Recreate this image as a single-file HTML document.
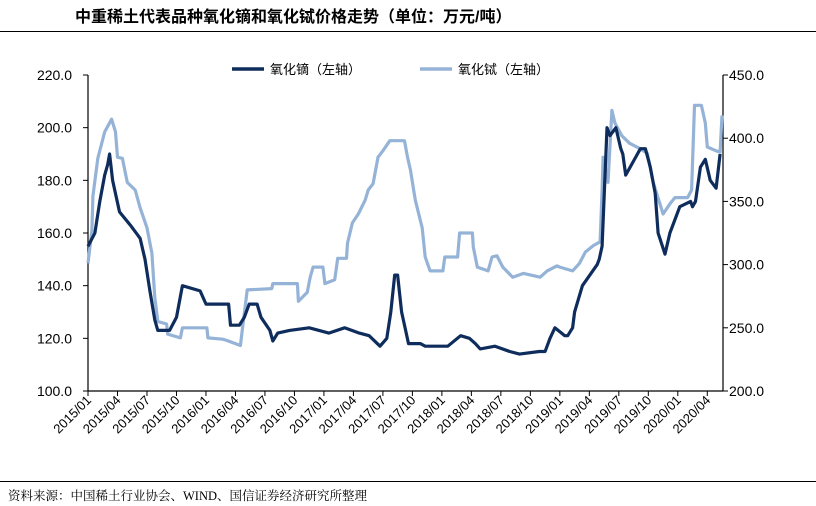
<!DOCTYPE html>
<html><head><meta charset="utf-8">
<style>
body{margin:0;background:#fff;width:816px;height:506px;overflow:hidden;font-family:"Liberation Sans","Noto Sans CJK SC",sans-serif;}
#title{position:absolute;left:75px;top:3px;font-size:16px;font-weight:bold;color:#000;font-family:"Liberation Sans","Noto Sans CJK SC",sans-serif;}
#src{position:absolute;left:8px;top:486px;font-size:12.5px;color:#000;font-family:"Liberation Serif","Noto Serif CJK SC",serif;}
.hl{position:absolute;left:0;width:816px;height:1px;background:#000;}
</style></head><body>
<div id="title">中重稀土代表品种氧化镝和氧化铽价格走势（单位：万元/吨）</div>
<div class="hl" style="top:31px"></div>
<div class="hl" style="top:481px"></div>
<div id="src">资料来源：中国稀土行业协会、WIND、国信证券经济研究所整理</div>
<svg id="chart" width="816" height="506" style="position:absolute;left:0;top:0"></svg>
<script>
const xTickLabels=["2015/01","2015/04","2015/07","2015/10","2016/01","2016/04","2016/07","2016/10","2017/01","2017/04","2017/07","2017/10","2018/01","2018/04","2018/07","2018/10","2019/01","2019/04","2019/07","2019/10","2020/01","2020/04"];
const leftTicks=[100,120,140,160,180,200,220];
const rightTicks=[200,250,300,350,400,450];
// month index (0 = 2015/01) and values
const dyMonths=[0,0.7,1.2,1.7,2.0,2.2,2.5,3.2,4.3,5.3,5.8,6.3,6.8,7.1,8.3,9.0,9.6,11.4,12.0,14.3,14.5,15.4,15.9,16.4,17.2,17.6,18.5,18.8,19.3,20.5,22.5,24.5,26.1,27.6,28.6,29.7,30.4,30.8,31.2,31.5,31.9,32.2,32.6,33.8,34.3,36.6,37.9,38.8,39.4,39.9,41.4,42.9,43.9,45.9,46.5,47.0,47.5,48.5,48.8,49.3,49.5,50.3,51.8,52.0,52.3,52.8,53.1,53.7,54.2,54.4,54.7,56.2,56.7,57.2,57.7,58.0,58.7,59.2,60.2,61.3,61.5,61.8,62.3,62.8,63.3,63.9,64.3];
const dyValues=[155,160,172,182,186,190,180,168,163,158,150,138,127,123,123,128,140,138,133,133,125,125,128,133,133,128,123,119,122,123,124,122,124,122,121,117,120,130,144,144,130,125,118,118,117,117,121,120,118,116,117,115,114,115,115,120,124,121,121,124,130,140,148,150,155,200,197,200,192,190,182,192,192,185,175,160,152,160,170,172,170,172,185,188,180,177,190];
const tbMonths=[0,0.4,0.5,1.0,1.7,2.4,2.8,3.0,3.5,4.0,4.8,5.3,6.0,6.5,6.8,7.1,8.0,8.1,9.4,9.6,12.1,12.2,13.7,14.1,15.5,16.2,18.7,18.8,21.3,21.4,22.3,22.6,22.9,23.9,24.1,25.1,25.4,26.3,26.4,26.9,27.5,28.2,28.5,29.0,29.5,30.0,30.7,32.2,32.5,32.8,33.3,34.0,34.3,34.8,36.1,36.3,37.6,37.8,39.1,39.2,39.6,40.7,41.1,41.6,42.2,43.2,44.3,46.0,46.7,47.7,48.0,49.3,50.0,50.6,51.4,52.1,52.3,52.4,52.9,53.3,53.6,54.3,55.1,56.1,56.9,57.5,58.5,59.2,59.7,61.0,61.4,61.7,62.4,62.8,63.0,63.9,64.3,64.5];
const tbValues=[301,327,354,384,405,415,405,385,384,365,359,345,329,309,274,255,253,245,242,250,250,242,241,240,236,280,281,285,285,271,278,290,298,298,285,288,305,305,317,333,340,351,359,364,385,390,398,398,385,375,351,329,306,295,295,306,306,325,325,314,298,295,306,307,298,290,293,290,295,299,298,295,301,310,315,318,359,385,365,422,412,402,396,392,388,365,340,348,353,353,359,426,426,412,393,390,389,418];

const svg=document.getElementById('chart');
const NS='http://www.w3.org/2000/svg';
const X0=88,X1=723,Y0=391,Y1=75;
const monthPx=9.83;
const xs=m=>X0+m*monthPx;
const yl=v=>Y0-(v-100)/(220-100)*(Y0-Y1);
const yr=v=>Y0-(v-200)/(450-200)*(Y0-Y1);
function mk(tag,attrs,name,parent){const e=document.createElementNS(NS,tag);for(const k in attrs)e.setAttribute(k,attrs[k]);


(parent||svg).appendChild(e);return e;}
const font='Liberation Sans, Noto Sans CJK SC, sans-serif';
mk('line',{x1:X0,y1:Y1,x2:X0,y2:Y0,stroke:'#000','stroke-width':1.2},'left-axis');
mk('line',{x1:X1,y1:Y1,x2:X1,y2:Y0,stroke:'#000','stroke-width':1.2},'right-axis');
mk('line',{x1:X0,y1:Y0,x2:X1,y2:Y0,stroke:'#000','stroke-width':1.2},'x-axis');
leftTicks.forEach(v=>{const y=yl(v);
mk('line',{x1:X0-5,y1:y,x2:X0,y2:y,stroke:'#000'},'left-tick');
const t=mk('text',{x:X0-16,y:y+5,'text-anchor':'end','font-size':14,'font-family':font},'left-tick-label');t.textContent=v.toFixed(1);});
rightTicks.forEach(v=>{const y=yr(v);
mk('line',{x1:X1,y1:y,x2:X1+5,y2:y,stroke:'#000'},'right-tick');
const t=mk('text',{x:X1+6,y:y+5,'font-size':14,'font-family':font},'right-tick-label');t.textContent=v.toFixed(1);});
xTickLabels.forEach((s,i)=>{const x=xs(i*3);
mk('line',{x1:x,y1:Y0,x2:x,y2:Y0+5,stroke:'#000'},'x-tick');
const t=mk('text',{x:x+4,y:Y0+10,'text-anchor':'end','font-size':13,'font-family':font,transform:`rotate(-45 ${x+4} ${Y0+10})`},'x-tick-label');t.textContent=s;});
function series(ms,vs,yf,color,name){const d=ms.map((m,i)=>(i?'L':'M')+xs(m).toFixed(1)+' '+yf(vs[i]).toFixed(1)).join(' ');
mk('path',{d:d,fill:'none',stroke:color,'stroke-width':3.2,'stroke-linejoin':'round'},name);}
series(tbMonths,tbValues,yr,'#95b3d7','terbium-oxide-line');
series(dyMonths,dyValues,yl,'#0f2d5c','dysprosium-oxide-line');
const lg=mk('g',{},'legend');
mk('line',{x1:232,y1:69,x2:264,y2:69,stroke:'#0f2d5c','stroke-width':3.5},'legend-dysprosium-swatch',lg);
let t=mk('text',{x:270,y:74,'font-size':13,'font-family':font},'legend-dysprosium-label',lg);t.textContent='氧化镝（左轴）';
mk('line',{x1:420,y1:69,x2:452,y2:69,stroke:'#95b3d7','stroke-width':3.5},'legend-terbium-swatch',lg);
t=mk('text',{x:458,y:74,'font-size':13,'font-family':font},'legend-terbium-label',lg);t.textContent='氧化铽（左轴）';
</script>
</body></html>
